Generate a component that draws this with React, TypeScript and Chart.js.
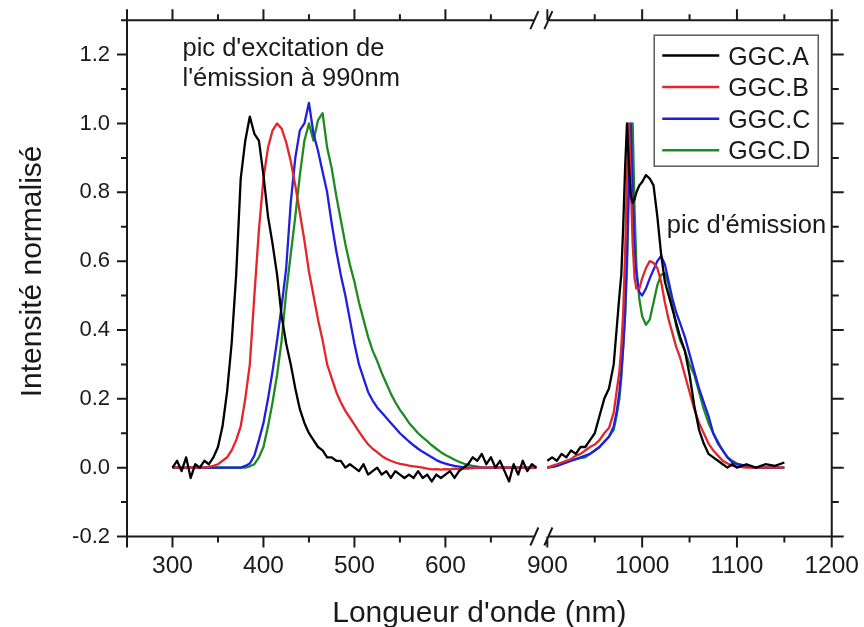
import { useEffect, useRef } from 'react';
import { Chart, registerables } from 'chart.js';

Chart.register(...registerables);

const FONT = "'Liberation Sans', Arial, Helvetica, sans-serif";
const TEXT = '#1a1a1a';

const seriesNames = ['GGC.A', 'GGC.B', 'GGC.C', 'GGC.D'];
const seriesColors = ['#000000', '#e3262a', '#1f1fe0', '#1e8a22'];

// Excitation segment (nm)
const leftNm = [300, 305, 310, 315, 320, 325, 330, 335, 340, 345, 350, 355, 360, 365, 370, 375, 380, 385, 390, 395,
  400, 405, 410, 415, 420, 425, 430, 435, 440, 445, 450, 455, 460, 465, 470, 475, 480, 485, 490, 495,
  500, 505, 510, 515, 520, 525, 530, 535, 540, 545, 550, 555, 560, 565, 570, 575, 580, 585, 590, 595,
  600, 605, 610, 615, 620, 625, 630, 635, 640, 645, 650, 655, 660, 665, 670, 675, 680, 685, 690, 695, 700];

// Emission segment (nm)
const rightNm = [900, 905, 910, 915, 920, 925, 930, 935, 940, 945, 950, 955, 960, 965, 970,
  973, 976, 978, 980, 982, 984, 986, 988, 990, 992, 994, 997, 1000,
  1004, 1008, 1012, 1016, 1020, 1024, 1028, 1032, 1036, 1040,
  1045, 1050, 1055, 1060, 1065, 1070, 1075, 1080, 1085, 1090, 1095, 1100,
  1110, 1120, 1130, 1140, 1150];

const aLeft = [0.00, 0.02, -0.01, 0.03, -0.03, 0.01, 0.00, 0.02, 0.01, 0.03, 0.06, 0.12, 0.22, 0.36, 0.56, 0.84, 0.95, 1.02, 0.97, 0.95,
  0.85, 0.73, 0.65, 0.56, 0.44, 0.36, 0.30, 0.23, 0.17, 0.13, 0.10, 0.08, 0.06, 0.05, 0.03, 0.03, 0.02, 0.02, 0.00, 0.01,
  0.00, -0.01, 0.01, -0.02, -0.01, 0.00, -0.02, -0.01, -0.03, -0.01, -0.02, -0.03, -0.02, -0.03, -0.01, -0.03, -0.02, -0.04, -0.02, -0.03,
  -0.02, -0.01, -0.03, -0.01, 0.00, 0.01, 0.03, 0.02, 0.04, 0.01, 0.03, 0.00, 0.02, -0.01, -0.04, 0.01, -0.02, 0.02, -0.01, 0.01, 0.00];

const bLeft = [0, 0, 0, 0, 0, 0, 0, 0, 0.002, 0.005, 0.01, 0.02, 0.03, 0.05, 0.08, 0.12, 0.2, 0.3, 0.5, 0.69,
  0.84, 0.93, 0.98, 1.0, 0.985, 0.945, 0.89, 0.82, 0.74, 0.66, 0.57, 0.5, 0.43, 0.37, 0.3, 0.26, 0.22, 0.19, 0.165, 0.145,
  0.125, 0.105, 0.085, 0.068, 0.055, 0.045, 0.034, 0.026, 0.02, 0.015, 0.011, 0.009, 0.006, 0.004, 0.002, 0, -0.003, -0.005, -0.004, -0.006,
  -0.004, -0.005, -0.003, -0.004, -0.002, -0.003, -0.001, 0, 0, 0, 0, 0, 0, 0, 0, 0, 0, 0, 0, 0, 0];

const cLeft = [0, 0, 0, 0, 0, 0, 0, 0, 0, 0, 0, 0, 0, 0, 0, 0, 0.005, 0.012, 0.035, 0.08,
  0.13, 0.2, 0.28, 0.37, 0.47, 0.58, 0.77, 0.9, 0.98, 1.0, 1.06, 0.97, 0.92, 0.86, 0.8, 0.71, 0.63, 0.56, 0.5, 0.43,
  0.36, 0.3, 0.26, 0.22, 0.195, 0.175, 0.16, 0.145, 0.13, 0.115, 0.1, 0.088, 0.076, 0.065, 0.055, 0.046, 0.038, 0.03, 0.022, 0.016,
  0.012, 0.008, 0.005, 0.003, 0.001, 0, 0, 0, 0, 0, 0, 0, 0, 0, 0, 0, 0, 0, 0, 0, 0];

const dLeft = [0, 0, 0, 0, 0, 0, 0, 0, 0, 0, 0, 0, 0, 0, 0, 0, 0, 0.004, 0.01, 0.03,
  0.06, 0.12, 0.19, 0.27, 0.37, 0.51, 0.62, 0.73, 0.85, 0.95, 1.0, 0.95, 1.01, 1.03, 0.93, 0.87, 0.79, 0.72, 0.65, 0.59,
  0.54, 0.48, 0.43, 0.38, 0.34, 0.31, 0.275, 0.245, 0.215, 0.19, 0.168, 0.15, 0.13, 0.115, 0.1, 0.088, 0.077, 0.065, 0.055, 0.045,
  0.037, 0.03, 0.023, 0.017, 0.012, 0.008, 0.005, 0.003, 0.001, 0, 0, 0, 0, 0, 0, 0, 0, 0, 0, 0, 0];

const aRight = [0.02, 0.03, 0.02, 0.04, 0.03, 0.05, 0.04, 0.06, 0.06, 0.08, 0.1, 0.15, 0.2, 0.23, 0.3,
  0.4, 0.5, 0.56, 0.7, 0.87, 1.0, 0.88, 0.79, 0.77, 0.78, 0.8, 0.82, 0.83,
  0.85, 0.84, 0.82, 0.73, 0.62, 0.54, 0.5, 0.46, 0.42, 0.38,
  0.34, 0.27, 0.18, 0.11, 0.07, 0.04, 0.03, 0.02, 0.01, 0.0, 0.01, 0.0,
  0.01, 0.0, 0.01, 0.005, 0.015];

const bRight = [0.0, 0.005, 0.01, 0.015, 0.02, 0.025, 0.035, 0.04, 0.05, 0.06, 0.067, 0.08, 0.1, 0.115, 0.16,
  0.22, 0.28, 0.35, 0.45, 0.62, 0.85, 1.0, 0.83, 0.65, 0.55, 0.52, 0.52, 0.55,
  0.58, 0.6, 0.595, 0.58, 0.54, 0.48, 0.43, 0.39, 0.35, 0.32,
  0.27, 0.22, 0.17, 0.13, 0.1, 0.07, 0.05, 0.035, 0.02, 0.012, 0.006, 0.003,
  0, 0, 0, 0, 0];

const cRight = [0, 0.002, 0.005, 0.01, 0.015, 0.02, 0.025, 0.03, 0.035, 0.04, 0.05, 0.06, 0.075, 0.09, 0.12,
  0.16, 0.22, 0.28, 0.35, 0.45, 0.62, 0.87, 1.0, 0.8, 0.63, 0.56, 0.51, 0.5,
  0.52, 0.55, 0.575, 0.6, 0.615, 0.59, 0.54, 0.49, 0.45, 0.42,
  0.38, 0.33, 0.28, 0.23, 0.19, 0.15, 0.1, 0.07, 0.05, 0.03, 0.016, 0.01,
  0.003, 0, 0, 0, 0];

const dRight = [0, 0.002, 0.005, 0.01, 0.015, 0.02, 0.025, 0.028, 0.03, 0.04, 0.05, 0.06, 0.075, 0.09, 0.11,
  0.15, 0.2, 0.26, 0.35, 0.44, 0.58, 0.8, 0.95, 1.0, 0.75, 0.58, 0.49, 0.44,
  0.415, 0.43, 0.48, 0.53, 0.56, 0.565, 0.53, 0.47, 0.41, 0.37,
  0.34, 0.3, 0.27, 0.22, 0.17, 0.13, 0.1, 0.075, 0.05, 0.03, 0.02, 0.012,
  0.005, 0, 0, 0, 0];

const leftSeries = [aLeft, bLeft, cLeft, dLeft];
const rightSeries = [aRight, bRight, cRight, dRight];

const xLeftRange = [250, 705.5];
const xRightRange = [893.7, 1200];
const yRange = [-0.2, 1.3];

const decorPlugin = {
  id: 'decor',
  afterDraw(chart: any) {
    const { ctx, chartArea } = chart;
    const { left, right, top, bottom } = chartArea;
    const sx1 = chart.scales.x1;
    const sx2 = chart.scales.x2;
    const sy = chart.scales.y;
    const brk = sx1.right;
    const gapL = brk - 7;
    const gapR = brk + 7;

    ctx.save();
    ctx.strokeStyle = TEXT;
    ctx.lineWidth = 2;
    ctx.beginPath();
    [top, bottom].forEach((yy: number) => {
      ctx.moveTo(left - 1, yy);
      ctx.lineTo(gapL, yy);
      ctx.moveTo(gapR, yy);
      ctx.lineTo(right + 1, yy);
    });
    ctx.moveTo(left, top);
    ctx.lineTo(left, bottom);
    ctx.moveTo(right, top);
    ctx.lineTo(right, bottom);
    // axis break marks
    [top, bottom].forEach((yy: number) => {
      [gapL, gapR].forEach((cx: number) => {
        ctx.moveTo(cx - 4, yy + 9);
        ctx.lineTo(cx + 4, yy - 9);
      });
    });
    const drawX = (scale: any, maxV: number) => {
      scale.ticks.forEach((t: any) => {
        const v = t.value;
        if (v > maxV) return;
        const px = scale.getPixelForValue(v);
        const len = v % 100 === 0 || v === 250 ? 11 : 6;
        ctx.moveTo(px, bottom);
        ctx.lineTo(px, bottom + len);
        ctx.moveTo(px, top);
        ctx.lineTo(px, top - len);
      });
    };
    drawX(sx1, 690);
    drawX(sx2, 1e9);
    sy.ticks.forEach((t: any) => {
      const v = t.value;
      const py = sy.getPixelForValue(v);
      const major = Math.round(v * 10) % 2 === 0;
      ctx.moveTo(left, py);
      ctx.lineTo(left - (major ? 10 : 6), py);
      ctx.moveTo(right, py);
      ctx.lineTo(right + (major ? 12 : 7), py);
    });
    ctx.stroke();

    // annotations
    ctx.fillStyle = TEXT;
    ctx.textAlign = 'left';
    ctx.textBaseline = 'alphabetic';
    ctx.font = `25.5px ${FONT}`;
    ctx.fillText("pic d'excitation de", sx1.getPixelForValue(311), sy.getPixelForValue(1.197));
    ctx.fillText("l'émission à 990nm", sx1.getPixelForValue(311), sy.getPixelForValue(1.11));
    ctx.fillText("pic d'émission", sx2.getPixelForValue(1026), sy.getPixelForValue(0.681));

    // axis titles
    ctx.font = `30px ${FONT}`;
    ctx.textAlign = 'center';
    ctx.fillText("Longueur d'onde (nm)", (left + right) / 2, 622);
    ctx.save();
    ctx.translate(41, (top + bottom) / 2 - 7);
    ctx.rotate(-Math.PI / 2);
    ctx.fillText('Intensité normalisé', 0, 0);
    ctx.restore();

    // legend
    const bx = right - 177.5;
    const by = top + 15;
    ctx.strokeStyle = '#5a5a5a';
    ctx.lineWidth = 1.5;
    ctx.strokeRect(bx, by, 164, 131);
    const legendSets = chart.data.datasets.filter((d: any) => d.xAxisID === 'x1');
    ctx.font = `25px ${FONT}`;
    ctx.textAlign = 'left';
    legendSets.forEach((d: any, i: number) => {
      const ry = by + 20.3 + i * 31.6;
      ctx.strokeStyle = d.borderColor;
      ctx.lineWidth = 2.5;
      ctx.beginPath();
      ctx.moveTo(bx + 8, ry);
      ctx.lineTo(bx + 65, ry);
      ctx.stroke();
      ctx.fillStyle = TEXT;
      ctx.fillText(d.label, bx + 74, ry + 9);
    });
    ctx.restore();
  },
};

export default function App() {
  const ref = useRef<HTMLCanvasElement>(null);

  useEffect(() => {
    const datasets: any[] = [];
    seriesNames.forEach((name, i) => {
      const common = {
        borderColor: seriesColors[i],
        backgroundColor: seriesColors[i],
        borderWidth: 2.3,
        pointRadius: 0,
        tension: 0,
        borderJoinStyle: 'round',
        yAxisID: 'y',
      };
      datasets.push({
        ...common,
        label: name,
        xAxisID: 'x1',
        data: leftNm.map((x, k) => ({ x, y: leftSeries[i][k] })),
      });
      datasets.push({
        ...common,
        label: name,
        xAxisID: 'x2',
        data: rightNm.map((x, k) => ({ x, y: rightSeries[i][k] })),
      });
    });

    const tickFont = { family: FONT, size: 24.5 };
    const yTickFont = { family: FONT, size: 22 };
    const chart = new Chart(ref.current as HTMLCanvasElement, {
      type: 'line',
      data: { datasets },
      plugins: [decorPlugin],
      options: {
        animation: false,
        responsive: false,
        layout: { padding: { top: 17.5, right: 29.5, bottom: 0, left: 0 } },
        plugins: { legend: { display: false }, tooltip: { enabled: false } },
        scales: {
          x1: {
            type: 'linear',
            position: 'bottom',
            stack: 'xs',
            stackWeight: 416,
            min: xLeftRange[0],
            max: xLeftRange[1],
            grid: { display: false, drawTicks: true, tickLength: 10 },
            border: { display: false },
            ticks: {
              stepSize: 50,
              includeBounds: false,
              autoSkip: false,
              maxRotation: 0,
              padding: 5,
              color: TEXT,
              font: tickFont,
              callback: (v: any) => (v % 100 === 0 && v >= 300 && v <= 600 ? String(v) : ''),
            },
            afterFit: (s: any) => { s.height = 90.5; },
          },
          x2: {
            type: 'linear',
            position: 'bottom',
            stack: 'xs',
            stackWeight: 291.5,
            min: xRightRange[0],
            max: xRightRange[1],
            grid: { display: false, drawTicks: true, tickLength: 10 },
            border: { display: false },
            ticks: {
              stepSize: 50,
              includeBounds: false,
              autoSkip: false,
              maxRotation: 0,
              padding: 5,
              color: TEXT,
              font: tickFont,
              callback: (v: any) => (v % 100 === 0 ? String(v) : ''),
            },
            afterFit: (s: any) => { s.height = 90.5; },
          },
          y: {
            type: 'linear',
            position: 'left',
            min: yRange[0],
            max: yRange[1],
            grid: { display: false, drawTicks: true, tickLength: 10 },
            border: { display: false },
            ticks: {
              stepSize: 0.1,
              autoSkip: false,
              padding: 7,
              color: TEXT,
              font: yTickFont,
              callback: (v: any) => {
                const k = Math.round(v * 10);
                return k % 2 === 0 ? (k / 10).toFixed(1) : '';
              },
            },
            afterFit: (s: any) => { s.width = 127; },
          },
        },
      } as any,
    });
    return () => chart.destroy();
  }, []);

  return (
    <div style={{ position: 'fixed', left: 0, top: 0, width: 864, height: 627, background: '#fff' }}>
      <canvas ref={ref} width={864} height={627} style={{ display: 'block' }} />
    </div>
  );
}
